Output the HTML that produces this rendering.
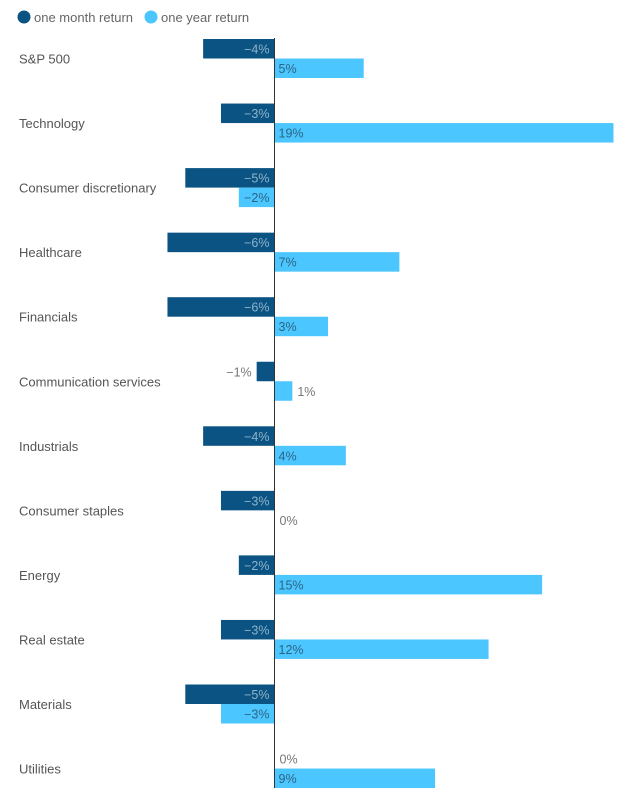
<!DOCTYPE html>
<html><head><meta charset="utf-8"><style>
body{margin:0;background:#fff;font-family:"Liberation Sans",sans-serif;}
svg text{font-family:"Liberation Sans",sans-serif;}
</style></head><body>
<svg id="c" width="631" height="802">
<g>
<circle cx="24" cy="17" r="6.5" fill="#0b5382"/>
<text x="34" y="22" font-size="13" fill="#666">one month return</text>
<circle cx="151" cy="17" r="6.5" fill="#4cc6ff"/>
<text x="161" y="22" font-size="13" fill="#666">one year return</text>
</g>
<g id="bars"></g>
<line x1="274.5" y1="38" x2="274.5" y2="788" stroke="#333" stroke-width="1"/>
</svg>
<script>
const categories=["S&P 500","Technology","Consumer discretionary","Healthcare","Financials","Communication services","Industrials","Consumer staples","Energy","Real estate","Materials","Utilities"];
const monthReturn=[-4,-3,-5,-6,-6,-1,-4,-3,-2,-3,-5,0];
const yearReturn=[5,19,-2,7,3,1,4,0,15,12,-3,9];
const NS="http://www.w3.org/2000/svg";
const g=document.getElementById('bars');
const x0=274.5, pxPer=17.84;
const xs=v=>x0+v*pxPer;
const rowY=i=>39+i*64.55;
const barH=19.5;
function mk(t,a){const e=document.createElementNS(NS,t);for(const k in a)e.setAttribute(k,a[k]);return e;}
function fmt(v){return (v<0?"\u2212":"")+Math.abs(v)+"%";}
function bar(v,y,color,inTxt,name){
  if(v!==0){
    const r=mk('rect',{x:Math.min(xs(v),x0),y:y,width:Math.abs(xs(v)-x0),height:barH,fill:color});
    
    
    g.appendChild(r);
  }
  const inside=Math.abs(v)>=2;
  let tx,anchor,fill;
  if(v<0){ if(inside){tx=x0-5;anchor='end';fill=inTxt;} else {tx=xs(v)-5;anchor='end';fill='#777';} }
  else { if(inside){tx=x0+4;anchor='start';fill=inTxt;} else {tx=xs(v)+5;anchor='start';fill='#777';} }
  const t=mk('text',{x:tx,y:y+14.5,'font-size':12.5,'text-anchor':anchor,fill:fill});
  t.textContent=fmt(v);
  
  
  g.appendChild(t);
}
categories.forEach((c,i)=>{
  const y=rowY(i);
  const l=mk('text',{x:19,y:y+24.5,'font-size':13,fill:'#555'});
  l.textContent=c;
  
  
  g.appendChild(l);
  bar(monthReturn[i],y,'#0b5382','#8fb3cc','month-bar');
  bar(yearReturn[i],y+barH,'#4cc6ff','#2d6585','year-bar');
});
</script>
</body></html>
